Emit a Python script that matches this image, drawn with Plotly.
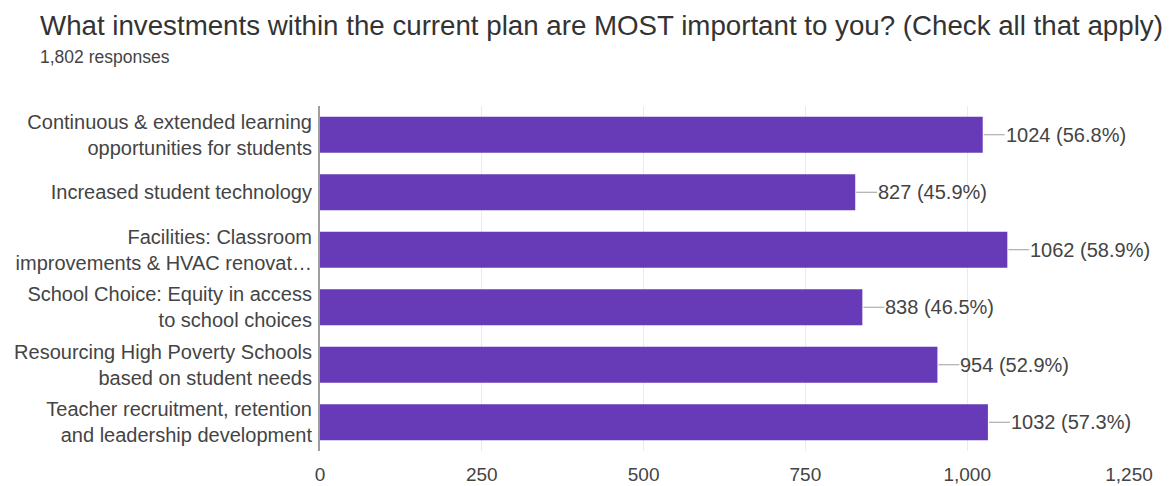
import plotly.graph_objects as go

categories = [
    "Continuous & extended learning<br>opportunities for students",
    "Increased student technology",
    "Facilities: Classroom<br>improvements & HVAC renovat…",
    "School Choice: Equity in access<br>to school choices",
    "Resourcing High Poverty Schools<br>based on student needs",
    "Teacher recruitment, retention<br>and leadership development",
]
counts = [1024, 827, 1062, 838, 954, 1032]
percents = ["56.8%", "45.9%", "58.9%", "46.5%", "52.9%", "57.3%"]
title_text = "What investments within the current plan are MOST important to you? (Check all that apply)"
subtitle_text = "1,802 responses"
tick_vals = [0, 250, 500, 750, 1000, 1250]

W, H = 1173, 486
ML, MR, MT, MB = 320, 44, 106, 35
FONT = "Liberation Sans, Arial, sans-serif"
PURPLE = "#673ab7"

fig = go.Figure()
fig.add_trace(go.Bar(
    x=counts, y=categories, orientation="h",
    marker=dict(color=PURPLE, line=dict(width=0)),
    width=0.625, hoverinfo="skip",
))

annotations = []
for c, p, cat in zip(counts, percents, categories):
    annotations.append(dict(
        x=c, y=cat, xref="x", yref="y",
        text=f"{c} ({p})", showarrow=True, arrowhead=0, arrowwidth=1,
        arrowcolor="#9e9e9e", ax=22, ay=0, xanchor="left", yanchor="middle",
        standoff=1, borderpad=0,
        font=dict(family=FONT, size=20, color="#444444"),
    ))

pw = W - ML - MR
ph = H - MT - MB
def px_to_paper_x(px):
    return (px - ML) / pw
def px_to_paper_y(py):
    return 1 - (py - MT) / ph

annotations.append(dict(
    x=px_to_paper_x(38), y=px_to_paper_y(25), xref="paper", yref="paper",
    text=title_text, showarrow=False, xanchor="left", yanchor="middle",
    font=dict(family=FONT, size=27.7, color="#333333"),
))
annotations.append(dict(
    x=px_to_paper_x(38), y=px_to_paper_y(57), xref="paper", yref="paper",
    text=subtitle_text, showarrow=False, xanchor="left", yanchor="middle",
    font=dict(family=FONT, size=17.5, color="#444444"),
))

fig.update_layout(
    width=W, height=H,
    margin=dict(l=ML, r=MR, t=MT, b=MB, pad=0, autoexpand=False),
    paper_bgcolor="white", plot_bgcolor="white",
    showlegend=False,
    annotations=annotations,
    xaxis=dict(
        range=[0, 1250], tickvals=tick_vals, tickformat=",d",
        showgrid=True, gridcolor="#ebebeb", gridwidth=1,
        zeroline=False, showline=False, ticks="",
        tickfont=dict(family=FONT, size=19, color="#444444"),
        ticklabelstandoff=10, fixedrange=True, automargin=False,
    ),
    yaxis=dict(
        autorange="reversed", showgrid=False, zeroline=False,
        showline=True, linecolor="#9e9e9e", linewidth=2, ticks="",
        tickfont=dict(family=FONT, size=20, color="#444444"),
        ticklabelstandoff=2, fixedrange=True, automargin=False,
    ),
)

fig.write_html("out.html", config={"displayModeBar": False})
